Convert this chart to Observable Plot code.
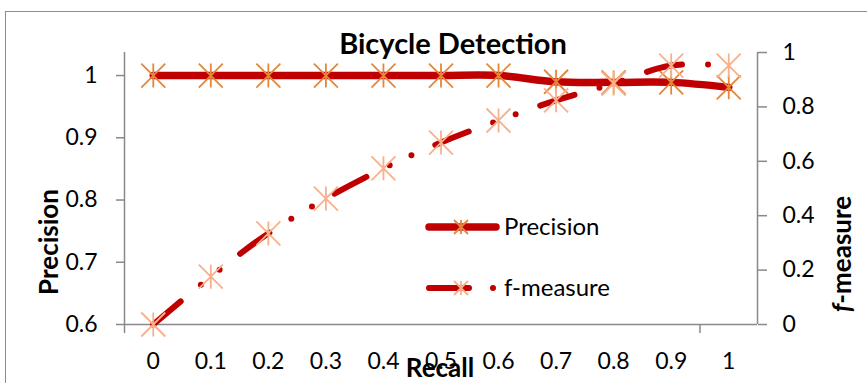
<!DOCTYPE html>
<html><head><meta charset="utf-8">
<script src="https://cdn.jsdelivr.net/npm/d3@7"></script>
<script src="https://cdn.jsdelivr.net/npm/@observablehq/plot@0.6"></script>
<style>
html,body{margin:0;padding:0;background:#fff;}
#wrap{position:relative;width:867px;height:383px;overflow:hidden;font-family:Lato,sans-serif;}
#frame{position:absolute;left:5px;top:11px;width:900px;height:420px;border:1.5px solid #8c8c8c;box-sizing:border-box;}
#wrap > svg{position:absolute;left:0;top:0;}
</style></head><body><div id="wrap"><div id="frame"></div></div>
<script>
// ---- data ----
const recall = [0, 0.1, 0.2, 0.3, 0.4, 0.5, 0.6, 0.7, 0.8, 0.9, 1];
const precision = [1, 1, 1, 1, 1, 1, 1, 0.99, 0.989, 0.989, 0.981];
const fMeasure = [0, 0.176, 0.335, 0.463, 0.574, 0.669, 0.75, 0.824, 0.886, 0.952, 0.952];
const precisionTicks = [0.6, 0.7, 0.8, 0.9, 1];
const fTicks = [0, 0.2, 0.4, 0.6, 0.8, 1];
const seriesNames = ["Precision", "f-measure"];
const titleText = "Bicycle Detection";
const xLabel = "Recall", yLabel = "Precision", y2Label = ["f", "-measure"];

// ---- styling ----
const W = 867, H = 383;
const RED = "#C00000", ORANGE = "#E4873C", SALMON = "#F8B08C", AXIS = "#898989";
const FONT = "Lato, sans-serif";
const fmt = d => String(+d.toFixed(1));
const excelStar = {draw(ctx, size) {
  const r = Math.sqrt(size / Math.PI);
  ctx.moveTo(-r, -r); ctx.lineTo(r, r);
  ctx.moveTo(-r, r); ctx.lineTo(r, -r);
  ctx.moveTo(0, -r); ctx.lineTo(0, r);
}};
const curve = d3.curveCatmullRom.alpha(0);
const common = {
  width: W, height: H,
  marginLeft: 124, marginRight: 110, marginTop: 52, marginBottom: 59,
  style: {fontFamily: FONT, fontSize: "23px", color: "#000", background: "transparent", overflow: "visible"}
};
const xDomain = [-0.05, 1.05];
const xStart = xDomain[0], xEnd = xDomain[1];

const p1 = Plot.plot({
  ...common,
  x: {domain: xDomain},
  y: {domain: [0.6, 1.037]},
  marks: [
    Plot.ruleX([xStart], {stroke: AXIS, strokeWidth: 1.5}),
    Plot.ruleY([0.6], {stroke: AXIS, strokeWidth: 1.5}),
    Plot.axisY(precisionTicks, {anchor: "left", tickSize: 8, tickPadding: 19, tickFormat: fmt, stroke: AXIS, strokeWidth: 1.5, fill: "#000", label: null}),
    Plot.axisX(recall, {anchor: "bottom", tickSize: 0, tickPadding: 28, tickFormat: fmt, fill: "#000", label: null}),
    Plot.axisX([xStart, xStart + 1], {anchor: "bottom", tickSize: 9, tickFormat: () => "", stroke: AXIS, strokeWidth: 1.5, label: null}),
    Plot.line(recall, {x: recall, y: precision, stroke: RED, strokeWidth: 7.5, curve}),
    Plot.dot(recall, {x: recall, y: precision, symbol: excelStar, r: 12, stroke: ORANGE, strokeWidth: 1.8, fill: "none"})
  ]
});
const p2 = Plot.plot({
  ...common,
  x: {domain: xDomain, axis: null},
  y: {domain: [0, 1]},
  marks: [
    Plot.ruleX([xEnd], {stroke: AXIS, strokeWidth: 1.5}),
    Plot.axisY(fTicks, {anchor: "right", tickSize: 9, tickPadding: 16, tickFormat: fmt, stroke: AXIS, strokeWidth: 1.5, fill: "#000", label: null}),
    Plot.line(recall, {x: recall, y: fMeasure, stroke: RED, strokeWidth: 6, strokeLinecap: "round", strokeDasharray: "36 26 0 24 0 26", curve}),
    Plot.dot(recall, {x: recall, y: fMeasure, symbol: excelStar, r: 12, stroke: SALMON, strokeWidth: 1.8, fill: "none"})
  ]
});
const wrap = document.getElementById("wrap");
wrap.appendChild(p1);
wrap.appendChild(p2);

// ---- title, axis titles, legend ----
const svg = d3.select(wrap).append("svg").attr("width", W).attr("height", H)
  .style("font-family", FONT);
svg.append("text").attr("x", 453).attr("y", 54).attr("text-anchor", "middle")
  .attr("font-size", 29).attr("font-weight", 700).text(titleText);
svg.append("text").attr("transform", "translate(58,242) rotate(-90)").attr("text-anchor", "middle")
  .attr("font-size", 26).attr("font-weight", 700).text(yLabel);
svg.append("text").attr("x", 440).attr("y", 377).attr("text-anchor", "middle")
  .attr("font-size", 26).attr("font-weight", 700).text(xLabel);
const t2 = svg.append("text").attr("transform", "translate(851,254) rotate(-90)").attr("text-anchor", "middle")
  .attr("font-size", 26).attr("font-weight", 700);
t2.append("tspan").attr("font-style", "italic").text(y2Label[0]);
t2.append("tspan").text(y2Label[1]);

const star = d3.symbol(excelStar, 7 * 7 * Math.PI)();
const lg = svg.append("g");
// Precision entry
lg.append("line").attr("x1", 429).attr("x2", 496).attr("y1", 227).attr("y2", 227)
  .attr("stroke", RED).attr("stroke-width", 7.5).attr("stroke-linecap", "round");
lg.append("path").attr("d", star).attr("transform", "translate(461,227)")
  .attr("stroke", ORANGE).attr("stroke-width", 1.8).attr("fill", "none");
lg.append("text").attr("x", 504).attr("y", 235).attr("font-size", 24).text(seriesNames[0]);
// f-measure entry
lg.append("line").attr("x1", 429).attr("x2", 469).attr("y1", 288).attr("y2", 288)
  .attr("stroke", RED).attr("stroke-width", 6).attr("stroke-linecap", "round");
lg.append("line").attr("x1", 493).attr("x2", 493).attr("y1", 288).attr("y2", 288)
  .attr("stroke", RED).attr("stroke-width", 6).attr("stroke-linecap", "round");
lg.append("path").attr("d", star).attr("transform", "translate(461,288)")
  .attr("stroke", SALMON).attr("stroke-width", 1.8).attr("fill", "none");
lg.append("text").attr("x", 504).attr("y", 296).attr("font-size", 24).text(seriesNames[1]);
</script></body></html>
